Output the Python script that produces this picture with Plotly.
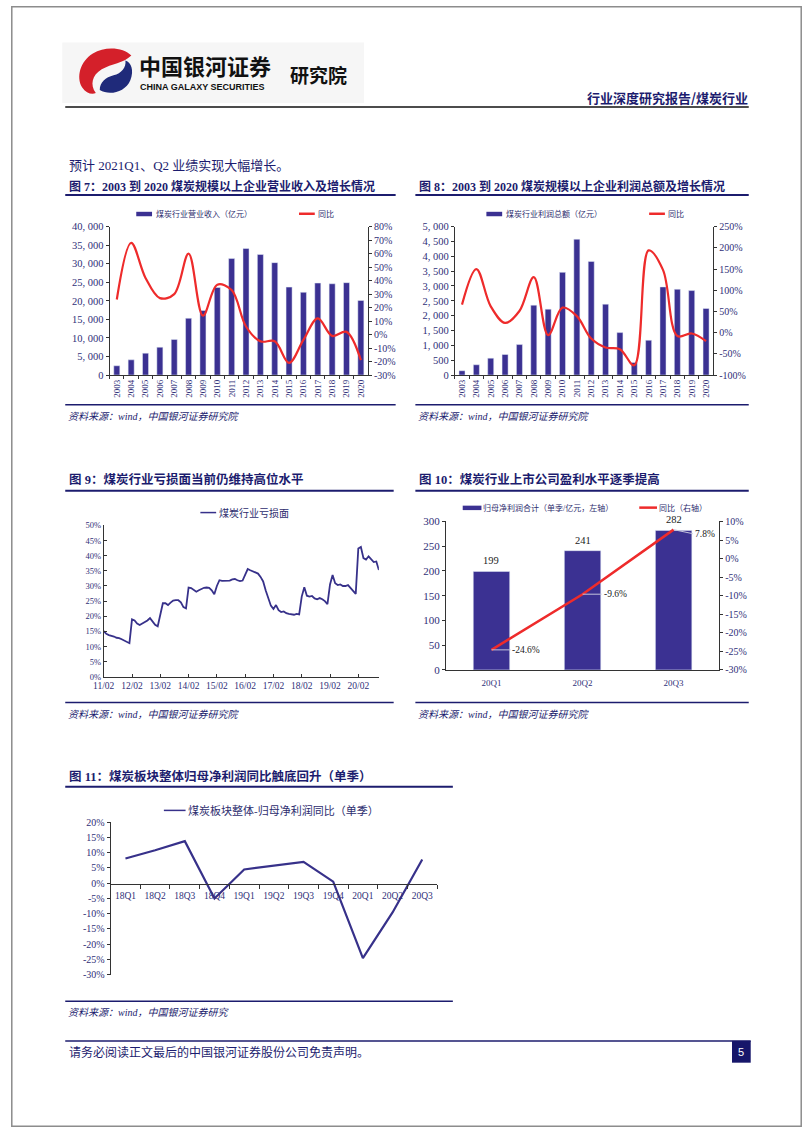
import plotly.graph_objects as go

# ---------------- data ----------------
years = ["2003", "2004", "2005", "2006", "2007", "2008", "2009", "2010", "2011",
         "2012", "2013", "2014", "2015", "2016", "2017", "2018", "2019", "2020"]
revenue = [2500, 4100, 5900, 7500, 9600, 15300, 17400, 23600, 31400,
           34100, 32500, 30300, 23700, 22300, 24800, 24600, 24900, 20100]
revenue_yoy = [26, 68, 42, 27, 30, 60, 14, 37, 33, 6, -5, -5, -21, -4, 12, -1, 2, -19]
profit = [145, 346, 570, 692, 1027, 2355, 2220, 3460, 4576,
          3828, 2388, 1430, 424, 1172, 2969, 2890, 2846, 2243]
profit_yoy = [66, 150, 62, 23, 51, 131, -6, 59, 39, -14, -35, -39, -77, 194, 148, -8, -2, -20]

rev_ticks = [0, 5000, 10000, 15000, 20000, 25000, 30000, 35000, 40000]
rev_ticktext = ["0", "5, 000", "10, 000", "15, 000", "20, 000", "25, 000", "30, 000", "35, 000", "40, 000"]
rev_yoy_ticks = [-30, -20, -10, 0, 10, 20, 30, 40, 50, 60, 70, 80]
pro_ticks = [0, 500, 1000, 1500, 2000, 2500, 3000, 3500, 4000, 4500, 5000]
pro_ticktext = ["0", "500", "1, 000", "1, 500", "2, 000", "2, 500", "3, 000", "3, 500", "4, 000", "4, 500", "5, 000"]
pro_yoy_ticks = [-100, -50, 0, 50, 100, 150, 200, 250]

# monthly loss ratio (Feb..Dec each year, Jan merged), 2011/02 - 2020/10
loss_ratio = [15.1, 14.2, 13.8, 13.6, 13.3, 12.9, 12.8, 12.4, 12.0, 11.6, 11.1,
              19.0, 18.6, 17.6, 17.1, 17.6, 18.1, 18.6, 19.4, 18.2, 17.2, 16.7,
              21.0, 24.3, 24.3, 23.7, 24.5, 25.2, 25.3, 25.3, 24.6, 23.0, 22.6,
              29.5, 29.3, 28.8, 28.1, 28.6, 29.0, 29.4, 29.5, 29.4, 28.6, 27.3,
              30.0, 31.9, 31.7, 31.7, 31.7, 31.8, 32.2, 32.3, 31.9, 31.6, 31.8,
              33.8, 35.6, 35.2, 34.9, 34.5, 34.1, 33.0, 31.5, 28.5, 25.8, 23.5,
              22.4, 23.7, 22.0, 21.4, 21.6, 21.0, 20.8, 20.7, 20.5, 20.8, 20.6,
              26.5, 29.6, 26.8, 26.5, 26.7, 25.9, 25.6, 26.0, 25.6, 25.0, 24.0,
              30.5, 33.6, 30.9, 30.3, 30.5, 30.0, 30.0, 30.3, 29.2, 28.3, 27.4,
              42.4, 42.9, 39.2, 38.7, 39.8, 38.7, 37.9, 38.1, 35.3]
loss_ticklabels = ["11/02", "12/02", "13/02", "14/02", "15/02", "16/02", "17/02", "18/02", "19/02", "20/02"]
POINTS_PER_YEAR = 11

quarters10 = ["20Q1", "20Q2", "20Q3"]
net_profit10 = [199, 241, 282]
net_yoy10 = [-24.6, -9.6, 7.8]

quarters11 = ["18Q1", "18Q2", "18Q3", "18Q4", "19Q1", "19Q2", "19Q3", "19Q4", "20Q1", "20Q2", "20Q3"]
net_yoy11 = [8.1, 10.8, 13.8, -5.0, 4.5, 5.7, 7.0, 0.5, -24.6, -9.6, 7.8]

# ---------------- helpers ----------------
W, H = 802, 1133
def X(p): return p / W
def Y(p): return 1 - p / H

NAVY = "#1c1c6e"
BAR = "#3b3192"
RED = "#ee2b2b"
TICK = "#2f2f78"
LINE9 = "#37318a"
SERIF = "Liberation Serif, Noto Sans CJK SC"
CJK = "Noto Sans CJK SC"

def pct(v):
    return f"{v}%"

def axstyle(size=10, **kw):
    d = dict(showgrid=False, zeroline=False, showline=True, linecolor="#333", linewidth=1,
             ticks="outside", ticklen=3, tickcolor="#333",
             tickfont=dict(family=SERIF, size=size, color=TICK))
    d.update(kw)
    return d

fig = go.Figure()

# Fig 7
fig.add_trace(go.Bar(x=years, y=revenue, marker_color=BAR, width=0.42, xaxis="x", yaxis="y"))
fig.add_trace(go.Scatter(x=years, y=revenue_yoy, mode="lines", line=dict(color=RED, width=2.2, shape="spline"),
                         xaxis="x", yaxis="y2"))
# Fig 8
fig.add_trace(go.Bar(x=years, y=profit, marker_color=BAR, width=0.42, xaxis="x2", yaxis="y3"))
fig.add_trace(go.Scatter(x=years, y=profit_yoy, mode="lines", line=dict(color=RED, width=2.2, shape="spline"),
                         xaxis="x2", yaxis="y4"))
# Fig 9
fig.add_trace(go.Scatter(x=list(range(len(loss_ratio))), y=loss_ratio, mode="lines",
                         line=dict(color=LINE9, width=1.8), xaxis="x3", yaxis="y5"))
# Fig 10
fig.add_trace(go.Bar(x=quarters10, y=net_profit10, marker_color=BAR, width=0.4, xaxis="x4", yaxis="y6"))
fig.add_trace(go.Scatter(x=quarters10, y=net_yoy10, mode="lines", line=dict(color=RED, width=2.5),
                         xaxis="x4", yaxis="y7"))
# Fig 11
fig.add_trace(go.Scatter(x=quarters11, y=net_yoy11, mode="lines", line=dict(color=LINE9, width=2.2),
                         xaxis="x5", yaxis="y8"))

layout = dict(
    width=W, height=H, margin=dict(l=0, r=0, t=0, b=0),
    paper_bgcolor="white", plot_bgcolor="rgba(0,0,0,0)", showlegend=False,
    xaxis=axstyle(size=9, domain=[X(100), X(362)], anchor="y", type="category", tickangle=-90,
                  tickson="boundaries", range=[-0.5, len(years) - 0.5]),
    yaxis=axstyle(size=10.5, domain=[Y(373), Y(223)], anchor="x", range=[0, 40000],
                  tickvals=rev_ticks, ticktext=rev_ticktext),
    yaxis2=axstyle(size=10, overlaying="y", side="right", anchor="x", range=[-30, 80],
                   tickvals=rev_yoy_ticks, ticktext=[pct(v) for v in rev_yoy_ticks]),
    xaxis2=axstyle(size=9, domain=[X(450), X(712)], anchor="y3", type="category", tickangle=-90,
                   tickson="boundaries", range=[-0.5, len(years) - 0.5]),
    yaxis3=axstyle(size=10.5, domain=[Y(373), Y(223)], anchor="x2", range=[0, 5000],
                   tickvals=pro_ticks, ticktext=pro_ticktext),
    yaxis4=axstyle(size=10, overlaying="y3", side="right", anchor="x2", range=[-100, 250],
                   tickvals=pro_yoy_ticks, ticktext=[pct(v) for v in pro_yoy_ticks]),
    xaxis3=axstyle(size=9.5, domain=[X(94), X(373)], anchor="y5", range=[0, len(loss_ratio) - 1],
                   tickvals=[i * POINTS_PER_YEAR for i in range(len(loss_ticklabels))],
                   ticktext=loss_ticklabels, ticks="inside", tickangle=0),
    yaxis5=axstyle(size=8.5, domain=[Y(678), Y(525)], anchor="x3", range=[0, 50],
                   tickvals=list(range(0, 51, 5)), ticktext=[pct(v) for v in range(0, 51, 5)],
                   ticks="inside"),
    xaxis4=axstyle(size=9, domain=[X(441), X(718)], anchor="y6", type="category", ticks="",
                   ticklabelstandoff=4, tickangle=0, range=[-0.5, len(quarters10) - 0.5]),
    yaxis6=axstyle(size=11, domain=[Y(671), Y(521)], anchor="x4", range=[0, 300],
                   tickvals=list(range(0, 301, 50))),
    yaxis7=axstyle(size=10, overlaying="y6", side="right", anchor="x4", range=[-30, 10],
                   tickvals=list(range(-30, 11, 5)), ticktext=[pct(v) for v in range(-30, 11, 5)]),
    xaxis5=axstyle(size=9.5, domain=[X(101), X(432)], anchor="free", position=Y(887), type="category",
                   tickson="boundaries", ticklen=4, ticklabelstandoff=3, tickangle=0,
                   range=[-0.5, len(quarters11) - 0.5]),
    yaxis8=axstyle(size=10, domain=[Y(979), Y(825)], anchor="x5", range=[-30, 20],
                   tickvals=list(range(-30, 21, 5)), ticktext=[pct(v) for v in range(-30, 21, 5)]),
)
fig.update_layout(**layout)

shapes = []
annots = []

def hline(x0, x1, y, color=NAVY, width=1.5):
    shapes.append(dict(type="line", xref="paper", yref="paper", x0=X(x0), x1=X(x1), y0=Y(y), y1=Y(y),
                       line=dict(color=color, width=width)))

def rect(x0, y0, x1, y1, fill, line=None):
    shapes.append(dict(type="rect", xref="paper", yref="paper", x0=X(x0), x1=X(x1), y0=Y(y1), y1=Y(y0),
                       fillcolor=fill, line=dict(width=0) if line is None else line, layer="below"))

def text(x, y, s, size, color=NAVY, xanchor="left", family=SERIF, yanchor="middle"):
    annots.append(dict(xref="paper", yref="paper", x=X(x), y=Y(y), text=s, showarrow=False,
                       xanchor=xanchor, yanchor=yanchor, borderpad=0,
                       font=dict(family=family, size=size, color=color)))

def path(cmds):
    s = ""
    for c, pts in cmds:
        s += c + " " + " ".join(f"{X(px):.5f},{Y(py):.5f}" for px, py in pts) + " "
    return s + "Z"

# page border
shapes.append(dict(type="rect", xref="paper", yref="paper", x0=X(0.8), x1=X(801.2), y0=Y(1132.2), y1=Y(0.8),
                   line=dict(color="#8c8c8c", width=1.5)))
# header
rect(52, 37, 358, 98, "#f6f6f6")
shapes.append(dict(type="path", xref="paper", yref="paper", fillcolor="#d4202a", line=dict(width=0),
                   path=path([("M", [(122, 50)]), ("C", [(114, 42), (96, 40), (83, 48)]),
                              ("C", [(70, 56), (66, 72), (72, 82)]), ("C", [(76, 88), (82, 90), (86, 88)]),
                              ("C", [(80, 80), (82, 70), (92, 64)]), ("C", [(102, 58), (114, 58), (122, 50)])])))
shapes.append(dict(type="path", xref="paper", yref="paper", fillcolor="#1f2a7a", line=dict(width=0),
                   path=path([("M", [(90, 85)]), ("C", [(100, 91), (116, 87), (121, 75)]),
                              ("C", [(125, 65), (122, 57), (116, 55)]), ("C", [(117, 62), (112, 68), (104, 70)]),
                              ("C", [(96, 72), (90, 77), (90, 85)])])))
text(129, 60, "<b>中国银河证券</b>", 22, "#111", family=CJK)
text(130, 81.5, "<b>CHINA GALAXY SECURITIES</b>", 9, "#111", family="Liberation Sans")
text(282, 69, "<b>研究院</b>", 19, "#111", family=CJK)
text(748, 92, "<b>行业深度研究报告/煤炭行业</b>", 13, NAVY, xanchor="right", family=CJK)
hline(55, 748, 102, "#111", 1.5)

text(58, 161, "预计 2021Q1、Q2 业绩实现大幅增长。", 13, NAVY)

# figure titles and rules
text(58, 182, "<b>图 7：2003 到 2020 煤炭规模以上企业营业收入及增长情况</b>", 12, NAVY)
text(413, 182, "<b>图 8：2003 到 2020 煤炭规模以上企业利润总额及增长情况</b>", 12, NAVY)
hline(55, 390, 191, NAVY, 2)
hline(410, 748, 191, NAVY, 2)
hline(55, 390, 403)
hline(410, 748, 403)
src = "<i>资料来源：wind，中国银河证券研究院</i>"
text(57, 415, src, 10, NAVY)
text(412, 415, src, 10, NAVY)

text(58, 479, "<b>图 9：煤炭行业亏损面当前仍维持高位水平</b>", 12.5, NAVY)
text(413, 479, "<b>图 10：煤炭行业上市公司盈利水平逐季提高</b>", 12.5, NAVY)
hline(55, 388, 490, NAVY, 2)
hline(410, 748, 490, NAVY, 2)
hline(55, 388, 704)
hline(410, 748, 704)
text(57, 716, src, 10, NAVY)
text(412, 716, src, 10, NAVY)

text(58, 779, "<b>图 11：煤炭板块整体归母净利润同比触底回升（单季）</b>", 12.5, NAVY)
hline(55, 448, 789, NAVY, 2)
hline(55, 448, 1006)
text(57, 1017, "<i>资料来源：wind，中国银河证券研究</i>", 10, NAVY)

# legends
LEG = "#2d2d6e"
rect(127, 208, 143, 212.5, BAR)
text(146, 210, "煤炭行业营业收入（亿元）", 8, LEG)
hline(292, 308, 210, RED, 2.5)
text(310, 210, "同比", 8, LEG)

rect(482, 208, 498, 212.5, BAR)
text(501, 210, "煤炭行业利润总额（亿元）", 8, LEG)
hline(647, 663, 210, RED, 2.5)
text(665, 210, "同比", 8, LEG)

hline(192, 208, 512, LINE9, 1.5)
text(210, 512, "煤炭行业亏损面", 10, LEG)

rect(458, 505, 477, 509.5, BAR)
text(478, 507, "归母净利润合计（单季/亿元，左轴）", 8, LEG)
hline(637, 655, 507, RED, 2.5)
text(656, 507, "同比（右轴）", 8, LEG)

hline(155, 177, 813, LINE9, 1.5)
text(178, 813, "煤炭板块整体-归母净利润同比（单季）", 11, LEG)

# fig 10 data labels
for q, v in zip(quarters10, net_profit10):
    annots.append(dict(xref="x4", yref="y6", x=q, y=v, text=f"{v:.0f}", showarrow=False, yanchor="bottom",
                       yshift=3, font=dict(family=SERIF, size=10.5, color="#222")))
for q, v, ay in zip(quarters10, net_yoy10, [0, 0, 4]):
    annots.append(dict(xref="x4", yref="y7", x=q, y=v, text=f"{v:.1f}%", showarrow=True, arrowhead=0,
                       arrowwidth=1, arrowcolor="#c4c4dc", ax=19, ay=ay, xanchor="left",
                       font=dict(family=SERIF, size=9.5, color="#222")))

# footer
hline(55, 750, 1046, NAVY, 1.5)
text(58, 1057, "请务必阅读正文最后的中国银河证券股份公司免责声明。", 12, NAVY, family=CJK)
shapes.append(dict(type="rect", xref="paper", yref="paper", x0=X(731), x1=X(750), y0=Y(1068), y1=Y(1046),
                   fillcolor="#16166a", line=dict(width=0)))
text(740.5, 1057, "5", 11, "white", xanchor="center", family="Liberation Sans")

fig.update_layout(shapes=shapes, annotations=annots)

fig.write_html("out.html", config={"displayModeBar": False},
               post_script="document.body.style.margin='0';")
